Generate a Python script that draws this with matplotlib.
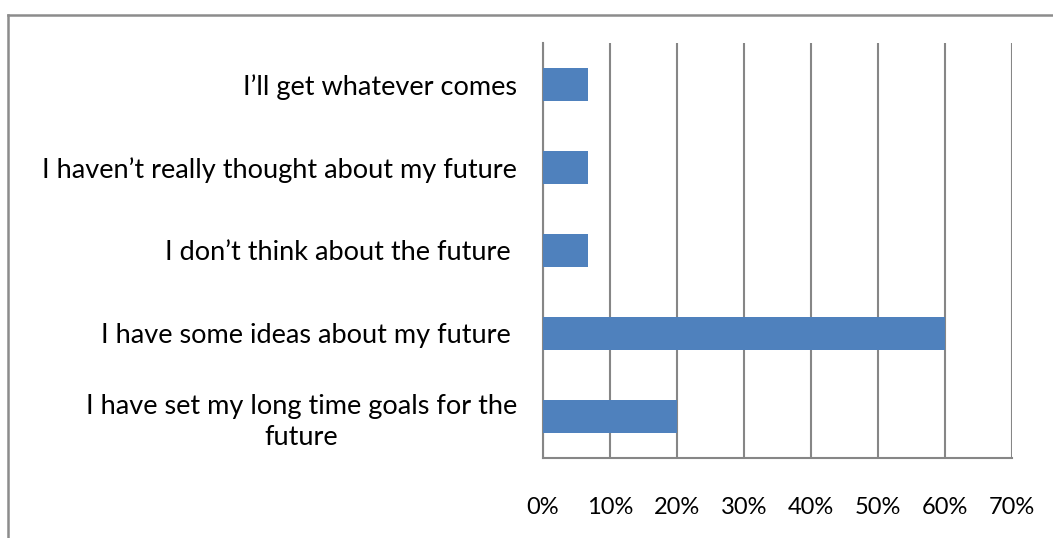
import matplotlib
matplotlib.use("Agg")
import matplotlib.pyplot as plt
from matplotlib.lines import Line2D
from matplotlib.ticker import PercentFormatter

# survey answers, bottom to top as drawn
answers = [
    "I have set my long time goals for the\nfuture",
    "I have some ideas about my future ",
    "I don\u2019t think about the future ",
    "I haven\u2019t really thought about my future",
    "I\u2019ll get whatever comes",
]
shares = [20.0, 60.0, 6.67, 6.67, 6.67]
x_ticks = [0, 10, 20, 30, 40, 50, 60, 70]

bar_color = "#4F81BD"
grid_color = "#868686"

plt.rcParams["font.family"] = ["Lato", "DejaVu Sans"]

W, H = 1053, 538
fig = plt.figure(figsize=(W / 100, H / 100), dpi=100)
ax = fig.add_axes([543 / W, 1 - 458 / H, (1011.5 - 543) / W, (458 - 43) / H])

ypos = list(range(len(answers)))
ax.barh(ypos, shares, height=0.4, color=bar_color, zorder=3)

ax.set_xlim(0, 70)
ax.set_ylim(-0.5, len(answers) - 0.5)
ax.set_xticks(x_ticks)
ax.xaxis.set_major_formatter(PercentFormatter(decimals=0))
ax.set_yticks(ypos)
ax.set_yticklabels(answers, multialignment="center", linespacing=1.3)

ax.xaxis.grid(True, color=grid_color, linewidth=1.5, zorder=0)
for side in ("top", "right"):
    ax.spines[side].set_visible(False)
for side in ("left", "bottom"):
    ax.spines[side].set_color(grid_color)
    ax.spines[side].set_linewidth(1.5)

ax.tick_params(axis="x", length=0, pad=28, labelsize=17, colors="black")
ax.tick_params(axis="y", length=0, pad=18.5, labelsize=19.5, colors="black")

# chart area frame, open to the right and bottom
frame_kw = dict(color="#8c8c8c", linewidth=1.8, transform=fig.transFigure)
fig.add_artist(Line2D([8 / W, 1.0], [1 - 15 / H, 1 - 15 / H], **frame_kw))
fig.add_artist(Line2D([8 / W, 8 / W], [1 - 15 / H, 0.0], **frame_kw))

fig.savefig("out.png", dpi=100, facecolor="white")
